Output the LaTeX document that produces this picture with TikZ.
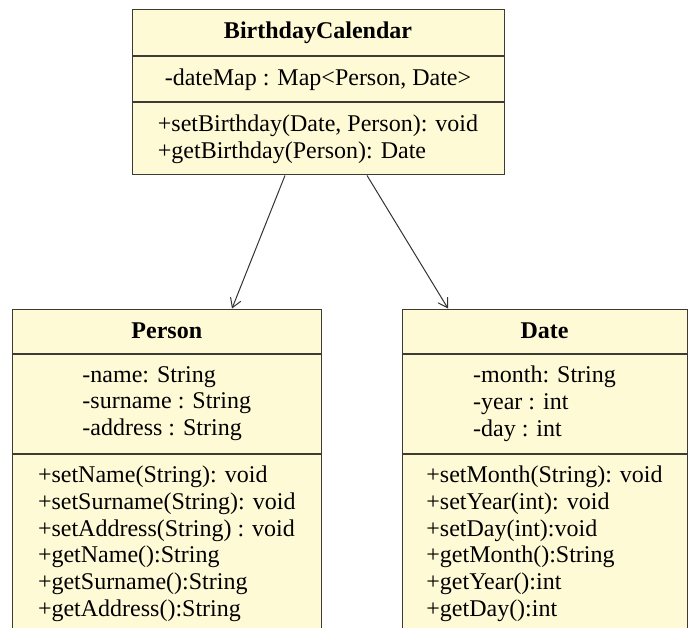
\documentclass[tikz,border=0pt]{standalone}
\usepackage{fontspec}
\setmainfont{Liberation Serif}
\usetikzlibrary{arrows.meta,calc}
\definecolor{umlfill}{RGB}{255,250,214}
\definecolor{umlline}{RGB}{60,60,52}
\tikzset{
  >={Straight Barb[length=4.5pt,width=5.5pt]},
  every node/.style={font=\fontsize{12}{13.4}\selectfont},
  part/.style={draw=umlline,line width=0.5pt,fill=umlfill,inner sep=0pt,
               align=left,minimum width=#1},
  head/.style={part=#1,font=\fontsize{12}{13.4}\selectfont\bfseries},
  members/.style={align=left,inner xsep=0pt},
  assoc/.style={->,draw=black!80,line width=0.5pt},
}

\begin{document}
\begin{tikzpicture}[x=1pt,y=1pt]
  \useasboundingbox (0,0) rectangle (345,-313.5);

  % BirthdayCalendar (centre x 159)
  \node[head=186pt,minimum height=22.85pt] (bcHead) at (159,-16.4) {BirthdayCalendar};
  \node[part=186pt,minimum height=22.65pt,anchor=north] (bcAttr) at (bcHead.south)
    {-dateMap : Map<Person, Date>};
  \node[part=186pt,minimum height=36pt,anchor=north] (bcOps) at (bcAttr.south)
    {+setBirthday(Date, Person): void\\+getBirthday(Person): Date};

  % Person (centre x 83.4)
  \node[head=154.2pt,minimum height=22pt] (pHead) at (83.4,-165.5) {Person};
  \node[part=154.2pt,minimum height=49.5pt,anchor=north] (pAttr) at (pHead.south)
    {-name: String\\-surname : String\\-address : String};
  \node[part=154.2pt,minimum height=100pt,anchor=north] (pOps) at (pAttr.south) {};
  \node[members,anchor=north,inner ysep=6pt] (pOpsTxt) at (pOps.north)
    {+setName(String): void\\+setSurname(String): void\\+setAddress(String) : void\\
     +getName():String\\+getSurname():String\\+getAddress():String};

  % Date (centre x 272.25)
  \node[head=142.5pt,minimum height=22pt] (dHead) at (272.25,-165.5) {Date};
  \node[part=142.5pt,minimum height=49.5pt,anchor=north] (dAttr) at (dHead.south)
    {-month: String\\-year : int\\-day : int};
  \node[part=142.5pt,minimum height=100pt,anchor=north] (dOps) at (dAttr.south) {};
  \node[members,anchor=north,inner ysep=6pt] (dOpsTxt) at (dOps.north)
    {+setMonth(String): void\\+setYear(int): void\\+setDay(int):void\\
     +getMonth():String\\+getYear():int\\+getDay():int};

  % associations
  \draw[assoc] ($(bcOps.south)+(-16.5,0)$) -- ($(pHead.north)+(32.6,0)$);
  \draw[assoc] ($(bcOps.south)+(24.5,0)$) -- ($(dHead.north)+(-48.25,0)$);
\end{tikzpicture}
\end{document}
